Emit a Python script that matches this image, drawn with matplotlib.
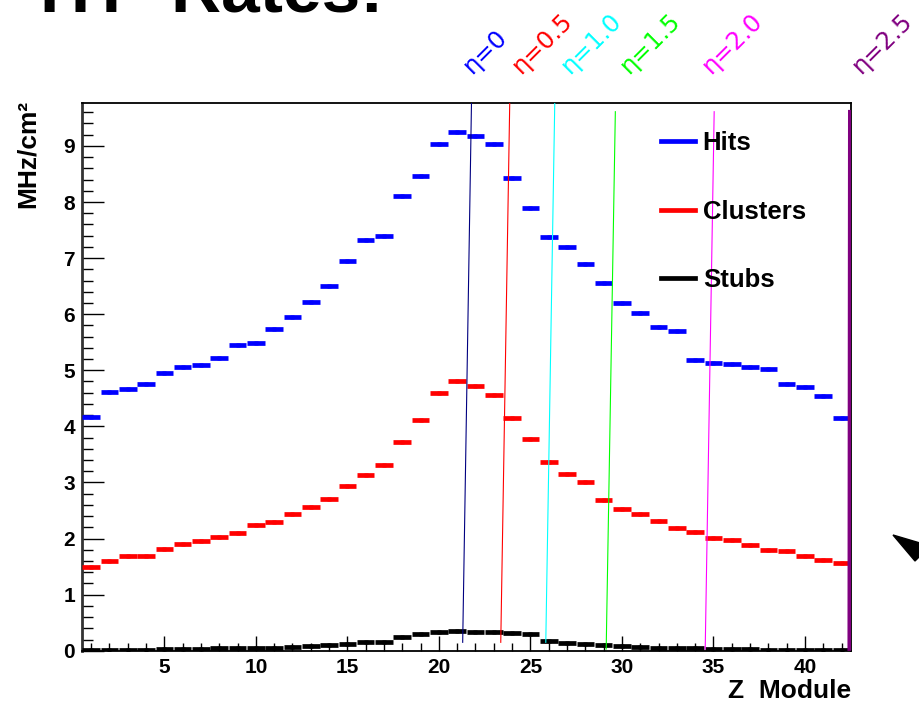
import matplotlib
matplotlib.use("Agg")
import matplotlib.pyplot as plt
from matplotlib.lines import Line2D
from matplotlib.patches import Polygon
from matplotlib.ticker import MultipleLocator

plt.rcParams['font.family'] = ['Liberation Sans', 'DejaVu Sans']
plt.rcParams['font.weight'] = 'bold'

# data (bins 1..42)
modules = list(range(1, 43))
hits = [4.16, 4.62, 4.66, 4.76, 4.96, 5.05, 5.10, 5.21, 5.45, 5.48,
        5.73, 5.95, 6.21, 6.51, 6.94, 7.33, 7.40, 8.10, 8.47, 9.03,
        9.24, 9.17, 9.04, 8.43, 7.90, 7.38, 7.20, 6.89, 6.55, 6.20,
        6.03, 5.78, 5.70, 5.19, 5.13, 5.12, 5.06, 5.03, 4.75, 4.70,
        4.54, 4.15]
clusters = [1.49, 1.60, 1.68, 1.69, 1.81, 1.90, 1.96, 2.02, 2.10, 2.24,
            2.29, 2.43, 2.56, 2.70, 2.94, 3.13, 3.32, 3.73, 4.12, 4.59,
            4.81, 4.72, 4.56, 4.15, 3.77, 3.36, 3.15, 3.01, 2.69, 2.53,
            2.44, 2.32, 2.18, 2.11, 2.01, 1.97, 1.88, 1.79, 1.78, 1.68,
            1.62, 1.57]
stubs = [0.01, 0.01, 0.02, 0.02, 0.025, 0.03, 0.03, 0.04, 0.04, 0.055,
         0.055, 0.07, 0.08, 0.10, 0.12, 0.15, 0.16, 0.25, 0.30, 0.34,
         0.35, 0.33, 0.33, 0.31, 0.29, 0.17, 0.14, 0.12, 0.095, 0.085,
         0.07, 0.05, 0.045, 0.04, 0.03, 0.03, 0.025, 0.02, 0.02, 0.02,
         0.015, 0.015]

# eta lines: z at bottom / top, y at bottom / top
eta_names = ["η=0", "η=0.5", "η=1.0", "η=1.5", "η=2.0", "η=2.5"]
eta_z_bot = [21.30, 23.38, 25.84, 29.14, 34.55, 42.42]
eta_z_top = [21.78, 23.87, 26.33, 29.64, 35.04, 42.45]
eta_y_bot = [0.15, 0.15, 0.15, 0.03, 0.03, 0.03]
eta_y_top = [9.76, 9.76, 9.76, 9.61, 9.61, 9.61]
eta_label_z = [21.8, 24.5, 27.2, 30.4, 34.9, 43.1]
eta_line_col = ["navy", "red", "cyan", "#00ff00", "magenta", "purple"]
eta_text_col = ["blue", "red", "cyan", "#00ff00", "magenta", "purple"]
eta_lw = [0.8, 0.8, 0.8, 0.8, 0.8, 2.6]

fig = plt.figure(figsize=(9.2, 7.07), dpi=100)
ax = fig.add_axes([0.0891, 0.0796, 0.8356, 0.7743])

series = [(hits, "blue", "Hits"), (clusters, "red", "Clusters"), (stubs, "black", "Stubs")]
for vals, col, lab in series:
    ax.errorbar(modules, vals, xerr=0.48, fmt='none', ecolor=col,
                elinewidth=3.4, zorder=3)
    ax.plot(modules, vals, ls='none', marker='s', ms=2.2, color=col,
            mec='none', zorder=4)

for i in range(len(eta_names)):
    ax.plot([eta_z_bot[i], eta_z_top[i]], [eta_y_bot[i], eta_y_top[i]],
            color=eta_line_col[i], lw=eta_lw[i], zorder=5)
    ax.text(eta_label_z[i], 10.28, eta_names[i], color=eta_text_col[i],
            family='DejaVu Sans', fontweight='normal', fontsize=17.5,
            rotation=45, rotation_mode='anchor', ha='left', va='baseline',
            clip_on=False)

ax.set_xlim(0.5, 42.5)
ax.set_ylim(0, 9.76)
ax.xaxis.set_major_locator(MultipleLocator(5))
ax.xaxis.set_minor_locator(MultipleLocator(1))
ax.yaxis.set_major_locator(MultipleLocator(1))
ax.yaxis.set_minor_locator(MultipleLocator(0.2))
ax.tick_params(axis='x', which='major', direction='in', length=11, width=1,
               labelsize=15, pad=5)
ax.tick_params(axis='x', which='minor', direction='in', length=5.5, width=1)
ax.tick_params(axis='y', which='major', direction='in', length=16, width=1,
               labelsize=15, pad=5)
ax.tick_params(axis='y', which='minor', direction='in', length=8, width=1)
for lbl in ax.get_xticklabels() + ax.get_yticklabels():
    lbl.set_fontweight('bold')
for s in ax.spines.values():
    s.set_linewidth(1.3)
ax.spines['left'].set_linewidth(2)
ax.spines['left'].set_color('#333333')

ax.set_xlabel("Z  Module", fontsize=19, fontweight='bold', loc='right')
ax.xaxis.set_label_coords(1.0, -0.052)
ax.set_ylabel("MHz/cm²", fontsize=19, fontweight='bold', loc='top')
ax.yaxis.set_label_coords(-0.055, 1.006)

handles = [Line2D([], [], color=c, lw=3.4) for _, c, _ in series]
ax.legend(handles, [l for _, _, l in series], loc='upper left',
          bbox_to_anchor=(0.753, 0.949), frameon=False,
          handlelength=1.32, handletextpad=0.31, labelspacing=1.73,
          borderpad=0, borderaxespad=0, prop={'weight': 'bold', 'size': 18.5})

fig.text(40 / 920, 1 - 12 / 707, "HT  Rates:", fontsize=50, fontweight='bold',
         ha='left', va='baseline')

# arrow head cut by the right edge
tri = [(893, 535), (920, 543), (920, 556), (915, 561)]
fig.patches.append(Polygon([(x / 920, 1 - y / 707) for x, y in tri],
                           closed=True, color='black',
                           transform=fig.transFigure))

fig.savefig("out.png", dpi=100)
